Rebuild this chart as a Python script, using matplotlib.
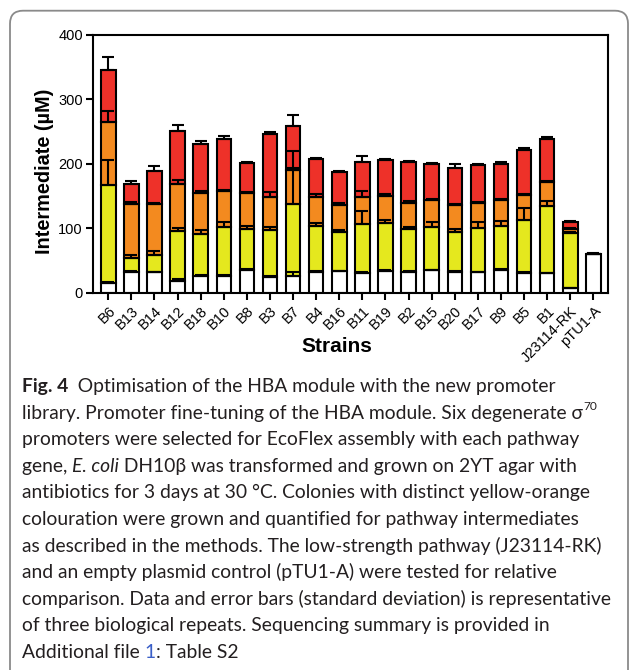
import matplotlib
matplotlib.use('Agg')
import matplotlib.pyplot as plt
import numpy as np
from matplotlib.patches import FancyBboxPatch
from matplotlib.transforms import IdentityTransform

# ---------------- data ----------------
strains = ['B6', 'B13', 'B14', 'B12', 'B18', 'B10', 'B8', 'B3', 'B7', 'B4', 'B16',
           'B11', 'B19', 'B2', 'B15', 'B20', 'B17', 'B9', 'B5', 'B1', 'J23114-RK', 'pTU1-A']
white = [14.6, 32.6, 31.6, 18.7, 26.0, 26.0, 34.7, 24.4, 26.4, 32.7, 33.2,
         30.6, 33.7, 32.7, 34.7, 32.7, 31.6, 35.7, 30.6, 30.1, 6.8, 59.6]
yellow = [153.1, 21.7, 26.4, 77.1, 64.6, 76.0, 64.2, 72.4, 111.3, 70.9, 60.6,
          76.1, 74.5, 66.7, 67.3, 61.6, 68.4, 68.4, 82.8, 104.5, 85.4, 0]
orange = [97.3, 83.9, 80.2, 72.5, 63.7, 56.4, 55.4, 52.2, 52.8, 44.5, 42.9,
          41.9, 41.5, 39.9, 41.5, 41.4, 39.3, 39.4, 37.8, 37.3, 6.2, 0]
red = [80.8, 31.1, 49.8, 82.7, 76.7, 79.2, 47.1, 97.4, 68.4, 59.9, 50.3,
       53.3, 56.3, 62.6, 55.3, 56.9, 58.0, 56.8, 70.4, 65.7, 10.9, 0]
white_err = [1.5, 1.0, 1.0, 1.8, 1.3, 1.0, 1.3, 1.3, 5.6, 1.0, 1.0,
             2.0, 1.0, 1.0, 1.0, 1.0, 1.0, 1.0, 1.3, 1.0, 1.0, 2.6]
yellow_err = [37.3, 4.2, 6.7, 4.7, 7.3, 7.8, 4.7, 5.2, 81.8, 4.6, 4.1,
              20.6, 4.7, 2.6, 8.3, 5.1, 10.3, 6.7, 17.6, 8.3, 2.6, 0]
orange_err = [16.0, 2.6, 1.5, 6.2, 4.1, 1.1, 2.5, 7.4, 3.0, 4.7, 2.1,
              8.3, 3.6, 3.1, 2.0, 1.5, 2.0, 2.0, 2.1, 1.6, 1.6, 0]
red_err = [19.7, 3.7, 7.7, 9.0, 4.0, 4.6, 2.0, 3.1, 15.9, 0.7, 2.0,
           9.3, 2.0, 2.1, 2.6, 6.7, 2.5, 3.1, 3.1, 3.1, 1.7, 0]

ylabel = 'Intermediate (µM)'
xlabel = 'Strains'
yticks = [0, 100, 200, 300, 400]

caption_lines = [
    [("Fig. 4", 'bold'), ("  Optimisation of the HBA module with the new promoter", 'normal')],
    [("library. Promoter fine-tuning of the HBA module. Six degenerate σ", 'normal'), ("70", 'sup')],
    [("promoters were selected for EcoFlex assembly with each pathway", 'normal')],
    [("gene, ", 'normal'), ("E. coli", 'italic'), (" DH10β was transformed and grown on 2YT agar with", 'normal')],
    [("antibiotics for 3 days at 30 °C. Colonies with distinct yellow-orange", 'normal')],
    [("colouration were grown and quantified for pathway intermediates", 'normal')],
    [("as described in the methods. The low-strength pathway (J23114-RK)", 'normal')],
    [("and an empty plasmid control (pTU1-A) were tested for relative", 'normal')],
    [("comparison. Data and error bars (standard deviation) is representative", 'normal')],
    [("of three biological repeats. Sequencing summary is provided in", 'normal')],
    [("Additional file ", 'normal'), ("1", 'blue'), (": Table S2", 'normal')],
]

# ---------------- figure ----------------
W, H = 629, 670
plt.rcParams['font.family'] = ['Liberation Sans', 'DejaVu Sans']
fig = plt.figure(figsize=(W / 100, H / 100), dpi=100)

# outer rounded frame
frame = FancyBboxPatch((10, -30), 618, H - 10.7 + 30,
                       boxstyle="round,pad=0,rounding_size=13",
                       transform=IdentityTransform(), facecolor='none',
                       edgecolor='#8a8a8a', linewidth=1.3)
fig.add_artist(frame)

ax_l, ax_r, ax_t, ax_b = 92.7, 607.5, 34.7, 292.7
ax = fig.add_axes([ax_l / W, 1 - ax_b / H, (ax_r - ax_l) / W, (ax_b - ax_t) / H])

x = np.arange(len(strains))
bottom = np.zeros(len(strains))
segs = [(white, white_err, '#ffffff'), (yellow, yellow_err, '#e5e81e'),
        (orange, orange_err, '#f38a1f'), (red, red_err, '#ee3129')]
for vals, errs, col in segs:
    vals = np.array(vals, dtype=float)
    errs = np.array(errs, dtype=float)
    ax.bar(x, vals, 0.63, bottom=bottom, color=col, edgecolor='black',
           linewidth=1.5, zorder=2)
    tops = bottom + vals
    m = vals > 0
    ax.errorbar(x[m], tops[m], yerr=[np.zeros(m.sum()), errs[m]], fmt='none',
                ecolor='black', elinewidth=1.5, capsize=4.5, capthick=1.5, zorder=3)
    bottom = tops

ax.set_xlim(-0.674, 21.61)
ax.set_ylim(0, 400)
ax.set_yticks(yticks)
ax.set_xticks(x)
ax.set_xticklabels(strains, rotation=45, ha='right', va='top',
                   rotation_mode='anchor', fontsize=10.5)
ax.tick_params(axis='y', direction='out', length=5, width=1.5, labelsize=10.5, pad=2)
ax.tick_params(axis='x', direction='out', length=5, width=1.5, pad=3)
for s in ax.spines.values():
    s.set_linewidth(1.5)

fig.text(44.7 / W, 1 - 171 / H, ylabel, rotation=90, ha='center', va='center',
         fontsize=14.3, fontweight='bold')
fig.text(337 / W, 1 - 347 / H, xlabel, ha='center', va='center',
         fontsize=15, fontweight='bold')

# ---------------- caption ----------------
cap_family = ['Lato', 'DejaVu Sans']
renderer = fig.canvas.get_renderer()


def style_kw(style, fs):
    kw = dict(family=cap_family, fontsize=fs, color='#231f20')
    if style == 'bold':
        kw['fontweight'] = 'bold'
    elif style == 'italic':
        kw['fontstyle'] = 'italic'
    elif style == 'sup':
        kw['fontsize'] = fs * 0.62
    elif style == 'blue':
        kw['color'] = '#3a5fc8'
    return kw


def text_width(s, kw):
    t1 = fig.text(0, 0, 'x' + s + 'x', **kw)
    t2 = fig.text(0, 0, 'xx', **kw)
    w = t1.get_window_extent(renderer).width - t2.get_window_extent(renderer).width
    t1.remove()
    t2.remove()
    return w


def line_width(runs, fs):
    return sum(text_width(s, style_kw(st, fs)) for s, st in runs)


fs = 13.5
maxw = max(line_width(r, fs) for r in caption_lines)
target = 611 - 22
fs = min(fs * target / maxw, 14.5)

x0 = 22.0
base0 = 392.0
step = 26.6
for i, runs in enumerate(caption_lines):
    xp = x0
    yb = base0 + step * i
    for s, st in runs:
        kw = style_kw(st, fs)
        yy = yb
        if st == 'sup':
            yy = yb - fs * 100 / 72 * 0.45
        fig.text(xp / W, 1 - yy / H, s, ha='left', va='baseline', **kw)
        xp += text_width(s, kw)

fig.savefig('out.png', dpi=100)
